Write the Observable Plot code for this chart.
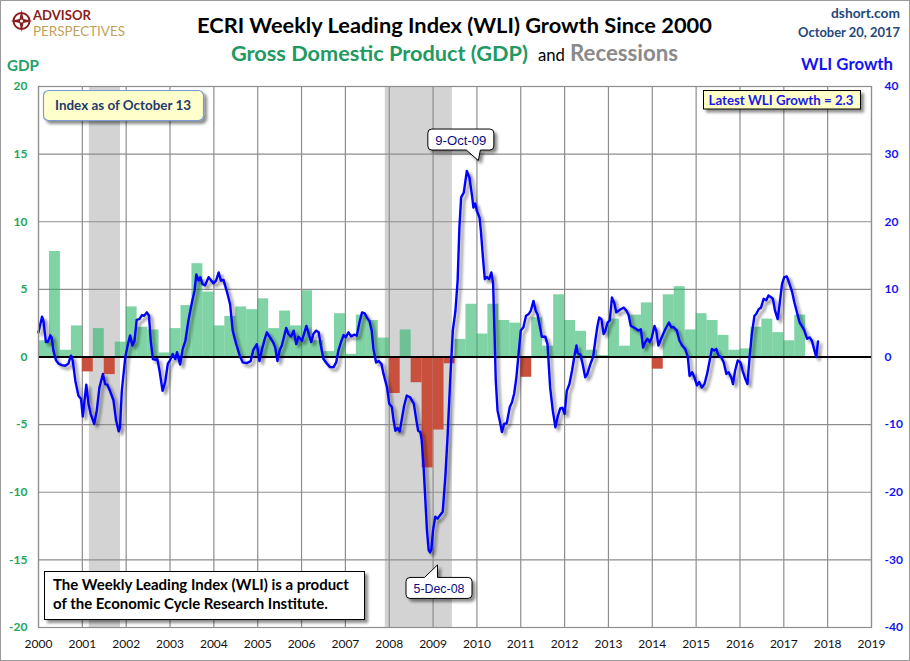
<!DOCTYPE html>
<html><head><meta charset="utf-8">
<script src="https://cdn.jsdelivr.net/npm/d3@7"></script>
<script src="https://cdn.jsdelivr.net/npm/@observablehq/plot@0.6"></script>
<style>
body{margin:0;background:#fff;}
#chart{position:relative;width:910px;height:661px;overflow:hidden;}
</style></head><body><div id="chart"></div>
<script>
// ---------- data ----------
const years = d3.range(2000, 2020);
const gdpTicks = [-20, -15, -10, -5, 0, 5, 10, 15, 20];
const wliTicks = [-40, -30, -20, -10, 0, 10, 20, 30, 40];

const gdpQuarters = [
 "2000Q1","2000Q2","2000Q3","2000Q4","2001Q1","2001Q2","2001Q3","2001Q4",
 "2002Q1","2002Q2","2002Q3","2002Q4","2003Q1","2003Q2","2003Q3","2003Q4",
 "2004Q1","2004Q2","2004Q3","2004Q4","2005Q1","2005Q2","2005Q3","2005Q4",
 "2006Q1","2006Q2","2006Q3","2006Q4","2007Q1","2007Q2","2007Q3","2007Q4",
 "2008Q1","2008Q2","2008Q3","2008Q4","2009Q1","2009Q2","2009Q3","2009Q4",
 "2010Q1","2010Q2","2010Q3","2010Q4","2011Q1","2011Q2","2011Q3","2011Q4",
 "2012Q1","2012Q2","2012Q3","2012Q4","2013Q1","2013Q2","2013Q3","2013Q4",
 "2014Q1","2014Q2","2014Q3","2014Q4","2015Q1","2015Q2","2015Q3","2015Q4",
 "2016Q1","2016Q2","2016Q3","2016Q4","2017Q1","2017Q2"];
const gdpValues = [
 1.2, 7.8, 0.5, 2.3, -1.1, 2.1, -1.3, 1.1,
 3.7, 2.2, 2.0, 0.3, 2.1, 3.8, 6.9, 4.8,
 2.3, 3.0, 3.7, 3.5, 4.3, 2.1, 3.4, 2.3,
 4.9, 1.2, 0.4, 3.2, 0.2, 3.1, 2.7, 1.4,
 -2.7, 2.0, -1.9, -8.2, -5.4, -0.5, 1.3, 3.9,
 1.7, 3.9, 2.7, 2.5, -1.5, 2.9, 0.8, 4.6,
 2.7, 1.9, 0.5, 0.1, 2.8, 0.8, 3.1, 4.0,
 -0.9, 4.6, 5.2, 2.0, 3.2, 2.7, 1.6, 0.5,
 0.6, 2.2, 2.8, 1.8, 1.2, 3.1];

const recessionStarts = [2001.16, 2007.91];
const recessionEnds   = [2001.87, 2009.44];

const wliDates = [
 2000.00,2000.08,2000.11,2000.17,2000.21,2000.27,2000.30,2000.34,2000.40,2000.46,2000.53,2000.61,2000.68,2000.74,2000.78,2000.84,2000.91,2000.97,
 2001.01,2001.09,2001.14,2001.19,2001.27,2001.33,2001.39,2001.47,2001.52,2001.57,2001.63,2001.71,2001.77,2001.83,2001.86,2001.90,2001.98,
 2002.04,2002.09,2002.14,2002.19,2002.24,2002.30,2002.36,2002.41,2002.47,2002.52,2002.56,2002.61,2002.66,2002.71,2002.76,2002.83,2002.89,2002.95,
 2003.00,2003.06,2003.12,2003.16,2003.23,2003.29,2003.35,2003.42,2003.50,2003.56,2003.60,2003.65,2003.69,2003.74,2003.80,2003.88,2003.94,2003.99,
 2004.05,2004.11,2004.16,2004.22,2004.30,2004.37,2004.43,2004.51,2004.59,2004.66,2004.75,2004.84,2004.90,2004.98,
 2005.04,2005.10,2005.16,2005.21,2005.27,2005.35,2005.40,2005.45,2005.50,2005.55,2005.60,2005.65,2005.70,2005.76,2005.82,2005.88,2005.93,
 2006.01,2006.06,2006.11,2006.16,2006.22,2006.27,2006.33,2006.39,2006.44,2006.50,2006.58,2006.65,2006.73,2006.79,2006.84,2006.90,2006.96,
 2007.01,2007.07,2007.13,2007.20,2007.26,2007.32,2007.38,2007.44,2007.49,2007.55,2007.60,2007.64,2007.70,2007.76,2007.82,2007.87,2007.95,
 2008.00,2008.06,2008.10,2008.14,2008.19,2008.24,2008.29,2008.34,2008.40,2008.48,2008.56,2008.62,2008.66,2008.71,2008.74,2008.78,2008.82,2008.86,2008.90,2008.93,2008.96,
 2009.00,2009.05,2009.10,2009.16,2009.22,2009.28,2009.33,2009.39,2009.45,2009.51,2009.56,2009.60,2009.64,2009.70,2009.77,2009.83,2009.89,2009.92,2009.96,
 2010.00,2010.06,2010.09,2010.14,2010.18,2010.23,2010.28,2010.33,2010.37,2010.40,2010.43,2010.47,2010.52,2010.57,2010.62,2010.68,2010.75,2010.80,2010.85,2010.90,2010.95,
 2011.00,2011.06,2011.12,2011.18,2011.23,2011.29,2011.34,2011.38,2011.44,2011.48,2011.56,2011.61,2011.67,2011.73,2011.79,2011.84,2011.90,2011.95,
 2012.00,2012.05,2012.11,2012.17,2012.22,2012.27,2012.30,2012.36,2012.41,2012.47,2012.52,2012.59,2012.65,2012.70,2012.75,2012.79,2012.84,2012.89,2012.93,2012.98,
 2013.03,2013.08,2013.13,2013.18,2013.23,2013.29,2013.35,2013.41,2013.46,2013.51,2013.57,2013.64,2013.69,2013.74,2013.79,2013.84,2013.89,2013.94,2013.99,
 2014.05,2014.09,2014.14,2014.20,2014.26,2014.32,2014.38,2014.43,2014.49,2014.56,2014.62,2014.68,2014.75,2014.81,2014.85,2014.91,2014.96,
 2015.02,2015.07,2015.13,2015.19,2015.25,2015.31,2015.36,2015.41,2015.46,2015.51,2015.57,2015.63,2015.69,2015.74,2015.80,2015.84,2015.89,2015.95,
 2016.01,2016.06,2016.12,2016.17,2016.22,2016.27,2016.33,2016.37,2016.43,2016.48,2016.54,2016.60,2016.65,2016.71,2016.75,2016.80,2016.86,2016.90,2016.96,
 2017.01,2017.07,2017.13,2017.19,2017.24,2017.30,2017.36,2017.41,2017.47,2017.53,2017.59,2017.64,2017.70,2017.74,2017.78];
const wliValues = [
 3.65,5.95,5.4,2.2,2.2,3.2,2.9,0.95,-0.5,-1.0,-1.2,-1.3,-1.0,0.2,-0.5,-3.5,-5.7,-6.2,
 -8.8,-4.1,-6.9,-8.4,-9.9,-7.9,-4.5,-2.5,-4.0,-4.1,-5.0,-6.4,-9.4,-11.0,-10.4,-5.0,0.0,
 1.9,3.2,1.7,2.4,5.5,5.6,6.2,6.1,6.6,6.1,2.4,-0.3,-0.4,-0.3,-2.0,-5.0,-3.7,-1.0,
 -0.5,0.45,-0.3,0.7,-1.1,1.2,2.4,5.4,8.1,9.8,12.2,11.3,11.8,10.8,10.6,11.8,11.3,10.9,
 11.3,12.5,11.3,11.4,9.6,7.8,3.9,1.9,0.2,-0.8,-0.9,-0.6,1.05,1.9,
 -0.6,1.2,2.65,3.65,3.0,2.2,1.4,-0.6,0.95,1.7,3.0,4.3,3.4,3.0,3.9,1.9,3.0,
 2.4,3.5,4.6,3.5,2.2,3.4,3.9,3.65,1.7,-0.3,-1.0,-1.5,-1.5,-0.8,0.95,2.2,3.25,
 2.9,3.65,3.05,3.3,3.15,5.1,6.6,6.45,5.85,5.3,3.9,1.2,-0.8,-0.6,-1.0,-2.5,-4.5,
 -6.9,-7.4,-9.4,-10.9,-10.5,-11.0,-9.1,-7.2,-5.7,-6.0,-6.9,-9.4,-10.9,-11.1,-12.3,-15.8,-20.7,-25.6,-28.6,-28.9,-28.5,
 -25.6,-23.6,-23.9,-23.4,-22.9,-17.7,-11.8,-3.5,3.9,6.8,11.3,19.1,23.6,24.3,27.5,26.5,23.8,22.1,22.7,
 21.6,20.6,18.7,14.5,11.5,11.8,11.5,12.5,10.8,3.9,-3.5,-7.9,-9.4,-11.1,-9.9,-9.8,-7.4,-6.7,-5.4,-3.0,0.45,
 3.9,4.4,6.1,6.35,6.85,8.3,6.85,6.35,4.4,3.0,3.0,1.9,-4.5,-7.9,-10.4,-8.9,-7.6,-7.5,
 -8.4,-5.0,-4.0,-2.0,0.0,1.7,0.55,0.35,-1.0,-3.0,-2.5,-1.0,0.0,2.4,4.6,5.85,5.6,3.4,3.9,5.1,
 5.4,8.8,8.05,6.6,6.85,7.1,7.3,6.85,6.2,4.6,4.4,4.1,3.9,4.1,1.4,2.2,2.7,2.2,2.9,
 4.6,3.9,1.7,2.65,3.6,4.4,5.1,4.4,4.4,3.9,2.4,1.7,1.2,0.0,-2.8,-2.25,-3.0,
 -4.2,-3.7,-4.5,-4.0,-2.5,-0.5,1.2,0.95,1.2,0.2,0.0,-0.8,-2.5,-2.25,-3.0,-4.0,-2.0,-0.5,
 -0.8,-2.0,-3.2,-4.0,0.0,3.4,6.1,6.35,7.1,7.3,8.6,8.4,9.1,8.85,8.6,6.85,5.6,7.6,10.8,
 11.8,11.9,10.8,9.6,8.1,6.6,5.1,4.6,3.9,2.7,2.9,2.4,0.95,0.0,2.3];

const calloutLabels = ["9-Oct-09", "5-Dec-08"];
const calloutDates  = [2009.77, 2008.93];
const calloutValues = [27.5, -28.9];

// ---------- tables ----------
const gdp = gdpQuarters.map((q, i) => {
  const y = +q.slice(0, 4), k = +q.slice(5);
  return {x1: y + (k - 1) / 4, x2: y + k / 4, value: gdpValues[i]};
});
const recessions = recessionStarts.map((s, i) => ({start: s, end: recessionEnds[i]}));
const wli = wliDates.map((t, i) => ({t, v: wliValues[i], g: wliValues[i] / 2}));

const FONT = "Lato, 'Open Sans', sans-serif";
const grid = "#8e8e8e";

const plot = Plot.plot({
  width: 910, height: 661,
  marginLeft: 38, marginRight: 39, marginTop: 86, marginBottom: 34,
  style: {fontFamily: FONT, background: "transparent", overflow: "visible"},
  x: {domain: [2000, 2019]},
  y: {domain: [-20, 20]},
  marks: [
    Plot.rect(recessions, {x1: "start", x2: "end", y1: -20, y2: 20, fill: "#d3d3d3"}),
    Plot.gridX(years, {stroke: grid, strokeOpacity: 1, strokeWidth: 1.2}),
    Plot.gridY(gdpTicks, {stroke: grid, strokeOpacity: 1, strokeWidth: 1.2}),
    Plot.rect(gdp.filter(d => d.value >= 0), {x1: "x1", x2: "x2", y1: 0, y2: "value", fill: "#2ab669", fillOpacity: 0.6}),
    Plot.rect(gdp.filter(d => d.value < 0), {x1: "x1", x2: "x2", y1: 0, y2: "value", fill: "#c9503d"}),
    Plot.ruleY([0], {stroke: "#000", strokeWidth: 2.2}),
    Plot.line(wli, {x: "t", y: "g", stroke: "#0000ff", strokeWidth: 2.4, curve: "linear"}),
    Plot.frame({stroke: grid, strokeWidth: 1.2}),
    Plot.axisX(years, {anchor: "bottom", tickSize: 0, tickPadding: 12, tickFormat: d => String(d), label: null, fill: "#111", fontSize: 12}),
    Plot.axisY(gdpTicks, {anchor: "left", tickSize: 0, tickPadding: 11, tickFormat: d => String(d), label: null, fill: "#22a65c", fontSize: 12, fontWeight: "bold"}),
    Plot.axisY(gdpTicks, {anchor: "right", tickSize: 0, tickPadding: 13, tickFormat: (d, i) => String(wliTicks[gdpTicks.indexOf(d)]), label: null, fill: "#1414f0", fontSize: 12, fontWeight: "bold"})
  ]
});
document.getElementById("chart").appendChild(plot);

const svg = d3.select(plot);
const sx = plot.scale("x"), sy = plot.scale("y");

// filters
const defs = svg.insert("defs", ":first-child");
function shadow(id, dx, dy, blur, op) {
  const f = defs.append("filter").attr("id", id).attr("x", "-20%").attr("y", "-20%").attr("width", "150%").attr("height", "150%");
  f.append("feGaussianBlur").attr("in", "SourceAlpha").attr("stdDeviation", blur).attr("result", "b");
  f.append("feOffset").attr("in", "b").attr("dx", dx).attr("dy", dy).attr("result", "o");
  f.append("feComponentTransfer").attr("in", "o").attr("result", "s").append("feFuncA").attr("type", "linear").attr("slope", op);
  const m = f.append("feMerge"); m.append("feMergeNode").attr("in", "s"); m.append("feMergeNode").attr("in", "SourceGraphic");
}
shadow("lineShadow", 2.5, 3, 1.6, 0.45);
shadow("boxShadow", 3, 3, 1.8, 0.45);
svg.selectAll('g[aria-label="line"]').attr("filter", "url(#lineShadow)");

const ov = svg.append("g").attr("font-family", FONT);

function fit(t, w) {
  const L = t.node().getComputedTextLength();
  const fs = parseFloat(t.attr("font-size"));
  if (L > 0) t.attr("font-size", (fs * w / L).toFixed(2));
  return t;
}
function txt(x, y, s, o) {
  const t = ov.append("text").attr("x", x).attr("y", y).text(s)
    .attr("font-size", o.size || 14).attr("font-weight", o.weight || "normal")
    .attr("fill", o.fill || "#000").attr("text-anchor", o.anchor || "start");
  if (o.family) t.attr("font-family", o.family);
  if (o.w) fit(t, o.w);
  return t;
}

// outer border
ov.append("rect").attr("x", 0.5).attr("y", 0.5).attr("width", 909).attr("height", 660)
  .attr("fill", "none").attr("stroke", "#9a9a9a");

// logo
const lg = ov.append("g").attr("transform", "translate(21.5,21)");
lg.append("circle").attr("r", 8).attr("fill", "none").attr("stroke", "#8b1d1d").attr("stroke-width", 2);
lg.append("path").attr("d", "M0,-11 L2,-2 L11,0 L2,2 L0,11 L-2,2 L-11,0 L-2,-2 Z").attr("fill", "#8b1d1d");
lg.append("circle").attr("r", 1.6).attr("fill", "#fff");
txt(33, 19.5, "ADVISOR", {size: 13, weight: "bold", fill: "#8b1d1d", w: 58});
txt(33, 36, "PERSPECTIVES", {size: 11, weight: "normal", fill: "#c4a15a", w: 92});

// titles
txt(197, 33, "ECRI Weekly Leading Index (WLI) Growth Since 2000", {size: 22, weight: "bold", fill: "#000", w: 515});
txt(231, 61, "Gross Domestic Product (GDP)", {size: 21, weight: "bold", fill: "#1f9a63", w: 297});
txt(538, 61, "and", {size: 16, fill: "#000", w: 27});
txt(570, 61, "Recessions", {size: 21, weight: "bold", fill: "#8a8a8a", w: 108});
txt(900, 18, "dshort.com", {size: 13, weight: "bold", fill: "#1f497d", anchor: "end", w: 69});
txt(900, 37, "October 20, 2017", {size: 13, weight: "bold", fill: "#1f497d", anchor: "end", w: 102});
txt(7, 71, "GDP", {size: 17, weight: "bold", fill: "#23a066", w: 32});
txt(893, 70, "WLI Growth", {size: 17, weight: "bold", fill: "#1414ee", anchor: "end", w: 92});

// boxes
function box(x, y, w, h, o) {
  ov.append("rect").attr("x", x).attr("y", y).attr("width", w).attr("height", h)
    .attr("rx", o.rx || 0).attr("fill", o.fill || "#fff").attr("stroke", o.stroke || "#000")
    .attr("stroke-width", o.sw || 1).attr("filter", "url(#boxShadow)");
}
box(43.5, 90.5, 160, 30, {fill: "#ffffcc", stroke: "#7b9bd0", rx: 5, sw: 1.2});
txt(123, 110, "Index as of October 13", {size: 14, weight: "bold", fill: "#1f3a6e", anchor: "middle", w: 136});

box(703.5, 90.5, 157, 18.5, {fill: "#ffffc8", stroke: "#000"});
txt(781, 104.5, "Latest WLI Growth = 2.3", {size: 13, weight: "bold", fill: "#1a1ae6", anchor: "middle", w: 145});

box(44.5, 571.5, 320, 48, {fill: "#fff", stroke: "#000"});
txt(53, 590, "The Weekly Leading Index (WLI) is a product", {size: 15, weight: "bold", fill: "#000", w: 296});
txt(53, 609, "of the Economic Cycle Research Institute.", {size: 15, weight: "bold", fill: "#000", w: 275});

// callouts anchored to data through the scales
function callout(i, up) {
  const px = sx.apply(calloutDates[i]), py = sy.apply(calloutValues[i] / 2);
  const g = ov.append("g").attr("filter", "url(#boxShadow)");
  let bx, by, path;
  const w = 66, h = 21, r = 4;
  if (up) { // box above point, pointer at bottom right
    bx = px - 38.5; by = py - 41.5;
    const tx = px + 12, ty = py - 10;
    path = `M${bx + r},${by} H${bx + w - r} Q${bx + w},${by} ${bx + w},${by + r} V${by + h - r} Q${bx + w},${by + h} ${bx + w - r},${by + h}
      H${tx + 2} L${tx},${ty} L${tx - 12},${by + h} H${bx + r} Q${bx},${by + h} ${bx},${by + h - r} V${by + r} Q${bx},${by} ${bx + r},${by} Z`;
  } else { // box below point, pointer at top
    bx = px - 23.5; by = py + 25.5;
    const tx = px + 8, ty = py + 13;
    path = `M${bx + r},${by} H${tx - 13} L${tx},${ty} L${tx},${by} H${bx + w - r} Q${bx + w},${by} ${bx + w},${by + r} V${by + h - r} Q${bx + w},${by + h} ${bx + w - r},${by + h}
      H${bx + r} Q${bx},${by + h} ${bx},${by + h - r} V${by + r} Q${bx},${by} ${bx + r},${by} Z`;
  }
  g.append("path").attr("d", path).attr("fill", "#fff").attr("stroke", "#000").attr("stroke-width", 1);
  txt(bx + w / 2, by + 15.5, calloutLabels[i], {size: 14, fill: "#0a0a80", anchor: "middle", family: "'Liberation Sans', Arial, sans-serif", w: 51});
}
callout(0, true);
callout(1, false);
</script>
</body></html>
